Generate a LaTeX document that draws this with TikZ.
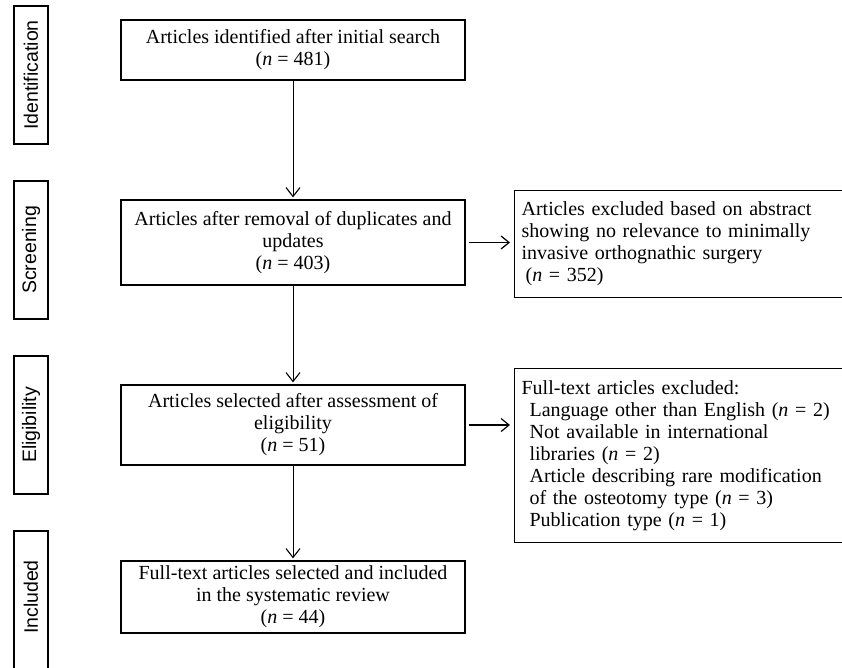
\documentclass[tikz,border=0pt]{standalone}
\usepackage{fontspec}
\setmainfont{Liberation Serif}
\setsansfont{Liberation Sans}
\usetikzlibrary{arrows.meta,positioning}
\tikzset{
  stagebox/.style={draw, line width=1.2pt, minimum width=34pt, inner sep=0pt},
  stagetext/.style={rotate=90, font=\sffamily\fontsize{19.5}{22}\selectfont},
  mainbox/.style={draw, line width=1.2pt, minimum width=344pt, inner sep=0pt, align=center, font=\fontsize{20}{22}\selectfont},
  exbox/.style={draw, line width=1.2pt, minimum width=346pt, text width=332pt, inner xsep=7pt, inner ysep=0pt, align=left, anchor=north west, font=\fontsize{20}{22}\selectfont},
  varrow/.style={line width=1pt, -{Straight Barb[length=9pt,width=14pt,line width=1.1pt]}, shorten >=2pt},
  harrow/.style={line width=1.6pt, -{Straight Barb[length=8pt,width=13pt,line width=1.2pt]}, shorten <=3pt, shorten >=4pt}
}
\newcommand{\nn}{\textit{n}}
\begin{document}
\begin{tikzpicture}[x=1pt,y=-1pt]
\useasboundingbox[fill=white] (0,0) rectangle (842,667);
% stage labels
\node[stagebox, minimum height=138pt] (s1) at (31,75) {};
\node[stagetext] (t1) at (s1.center) {Identification};
\node[stagebox, minimum height=138pt] (s2) at (31,250) {};
\node[stagetext] (t2) at (s2.center) {Screening};
\node[stagebox, minimum height=138pt] (s3) at (31,425) {};
\node[stagetext] (t3) at (s3.center) {Eligibility};
\node[stagebox, minimum height=160pt] (s4) at (31,611) {};
\node[stagetext] (t4) at (31,597) {Included};
% main boxes
\node[mainbox, minimum height=60pt] (b1) at (293,50) {Articles identified after initial search\\(\nn{} = 481)};
\node[mainbox, minimum height=85pt] (b2) at (293,242.5) {Articles after removal of duplicates and\\updates\\(\nn{} = 403)};
\node[mainbox, minimum height=80pt] (b3) at (293,425) {Articles selected after assessment of\\eligibility\\(\nn{} = 51)};
\node[mainbox, minimum height=72pt] (b4) at (293,597) {Full-text articles selected and included\\in the systematic review\\(\nn{} = 44)};
% exclusion boxes
\node[exbox, minimum height=107pt] (e1) at (514,190) {Articles excluded based on abstract\\showing no relevance to minimally\\invasive orthognathic surgery\\\hspace*{4pt}(\nn{} = 352)};
\node[exbox, minimum height=174pt] (e2) at (514,368) {Full-text articles excluded:\\
\hspace*{8pt}Language other than English (\nn{} = 2)\\
\hspace*{8pt}Not available in international\\
\hspace*{8pt}libraries (\nn{} = 2)\\
\hspace*{8pt}Article describing rare modification\\
\hspace*{8pt}of the osteotomy type (\nn{} = 3)\\
\hspace*{8pt}Publication type (\nn{} = 1)};
% connectors
\draw[varrow] (b1) -- (b2);
\draw[varrow] (b2) -- (b3);
\draw[varrow] (b3) -- (b4);
\draw[harrow] (b2.east) -- (b2.east -| e1.west);
\draw[harrow] (b3.east) -- (b3.east -| e2.west);
\end{tikzpicture}
\end{document}
